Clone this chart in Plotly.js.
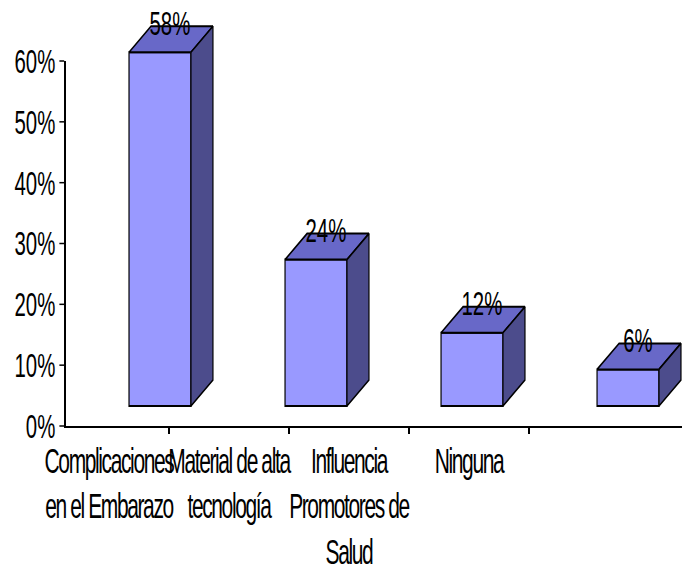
<!DOCTYPE html>
<html>
<head>
<meta charset="utf-8">
<script src="https://cdn.plot.ly/plotly-3.0.1.min.js"></script>
<style>
  html, body { margin: 0; padding: 0; overflow: hidden; background: #fff; width: 682px; height: 574px; }
  #chart { width: 1137px; height: 574px; transform: scaleX(0.59982); transform-origin: 0 0; }
  #chart .xtick text { letter-spacing: -2.3px; }
</style>
</head>
<body>
<div id="chart"></div>
<script>
// ---- data ----
const categories = ["Complicaciones<br>en el Embarazo", "Material de alta<br>tecnología", "Influencia<br>Promotores de<br>Salud", "Ninguna"];
const values = [0.58, 0.24, 0.12, 0.06];
const yTickVals = [0, 0.1, 0.2, 0.3, 0.4, 0.5, 0.6];
const yTickText = ["0%", "10%", "20%", "30%", "40%", "50%", "60%"];

// ---- style / geometry of pseudo-3D ----
const barPos = values.map((v, i) => i);
const barW = 0.397;     // in x2 units
const depthX = 0.141;   // in x2 units
const depthY = 0.0426;  // in y2 units
const frontColor = '#9999FF';
const topColor = '#6868C8';
const sideColor = '#4C4C8C';
const edge = { color: '#000', width: 2 };
const tickFont = { family: 'Liberation Sans, Arial, sans-serif', size: 34, color: '#000' };
const catFont = { family: 'Liberation Sans, Arial, sans-serif', size: 35, color: '#000' };

const traces = [];
// dummy trace to build the category axis
traces.push({
  type: 'scatter', mode: 'markers', x: categories, y: categories.map(() => 0),
  xaxis: 'x', yaxis: 'y', marker: { opacity: 0 }, hoverinfo: 'skip', showlegend: false
});
// front faces
traces.push({
  type: 'bar', x: barPos, y: values, width: barW, base: 0,
  xaxis: 'x2', yaxis: 'y2',
  marker: { color: frontColor, line: edge }, hoverinfo: 'skip', showlegend: false
});
values.forEach((v, i) => {
  const xl = barPos[i] - barW / 2, xr = barPos[i] + barW / 2;
  // top face
  traces.push({
    type: 'scatter', mode: 'lines', fill: 'toself', fillcolor: topColor,
    x: [xl, xl + depthX, xr + depthX, xr, xl],
    y: [v, v + depthY, v + depthY, v, v],
    xaxis: 'x2', yaxis: 'y2', line: edge, hoverinfo: 'skip', showlegend: false
  });
  // side face
  traces.push({
    type: 'scatter', mode: 'lines', fill: 'toself', fillcolor: sideColor,
    x: [xr, xr + depthX, xr + depthX, xr, xr],
    y: [v, v + depthY, depthY, 0, v],
    xaxis: 'x2', yaxis: 'y2', line: edge, hoverinfo: 'skip', showlegend: false
  });
});
// data labels
traces.push({
  type: 'scatter', mode: 'text',
  x: barPos.map(p => p + depthX * 0.45),
  y: values.map(v => v + depthY),
  text: values.map(v => Math.round(v * 100) + '%'),
  textposition: 'middle center', textfont: tickFont, cliponaxis: false,
  xaxis: 'x2', yaxis: 'y2', hoverinfo: 'skip', showlegend: false
});

const layout = {
  width: 1137, height: 574,
  margin: { l: 110, r: 0, t: 0, b: 148 },
  paper_bgcolor: '#fff', plot_bgcolor: 'rgba(0,0,0,0)',
  showlegend: false,
  xaxis: {
    type: 'category', categoryorder: 'array', categoryarray: categories,
    range: [-0.3583, 4.775], domain: [0, 1], anchor: 'y',
    showline: true, linecolor: '#000', linewidth: 2,
    ticks: 'outside', tickson: 'boundaries', ticklen: 6, tickwidth: 2.5, tickcolor: '#000',
    tickangle: 0, automargin: false, ticklabelstandoff: 3,
    showgrid: false, zeroline: false, tickfont: catFont, fixedrange: true
  },
  yaxis: {
    range: [0, 0.6], domain: [0, 0.8568], anchor: 'x',
    tickvals: yTickVals, ticktext: yTickText,
    showline: true, linecolor: '#000', linewidth: 3,
    ticks: 'outside', ticklen: 8, tickwidth: 1.5, tickcolor: '#000',
    showgrid: false, zeroline: false, tickfont: tickFont, fixedrange: true
  },
  xaxis2: {
    range: [-0.6026, 3.346], domain: [0, 1], anchor: 'y2', overlaying: 'x',
    visible: false, fixedrange: true
  },
  yaxis2: {
    range: [-0.0328, 0.6656], domain: [0, 1], anchor: 'x2',
    visible: false, fixedrange: true
  }
};

Plotly.newPlot('chart', traces, layout, { staticPlot: true, displayModeBar: false });
</script>
</body>
</html>
